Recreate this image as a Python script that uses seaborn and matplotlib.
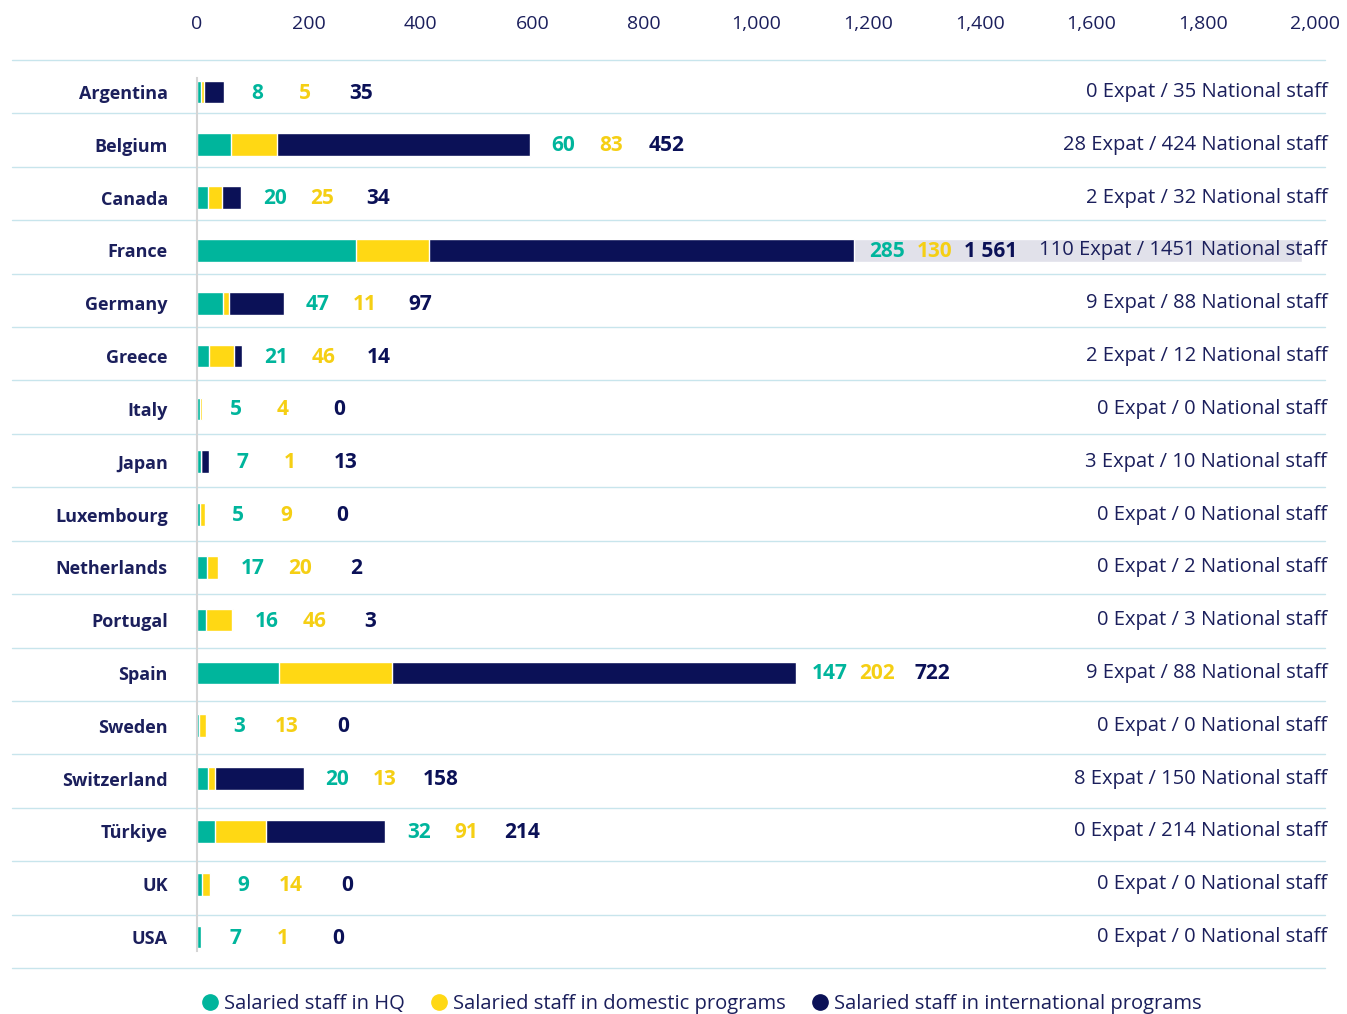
import matplotlib
matplotlib.use("Agg")
import matplotlib.pyplot as plt
from matplotlib.lines import Line2D
import seaborn as sns
import pandas as pd
import numpy as np

# data
countries = ['Argentina', 'Belgium', 'Canada', 'France', 'Germany', 'Greece', 'Italy',
             'Japan', 'Luxembourg', 'Netherlands', 'Portugal', 'Spain', 'Sweden',
             'Switzerland', 'Türkiye', 'UK', 'USA']
hq = [8, 60, 20, 285, 47, 21, 5, 7, 5, 17, 16, 147, 3, 20, 32, 9, 7]
domestic = [5, 83, 25, 130, 11, 46, 4, 1, 9, 20, 46, 202, 13, 13, 91, 14, 1]
intl = [35, 452, 34, 1561, 97, 14, 0, 13, 0, 2, 3, 722, 0, 158, 214, 0, 0]
expat = [0, 28, 2, 110, 9, 2, 0, 3, 0, 0, 0, 9, 0, 8, 0, 0, 0]
national = [35, 424, 32, 1451, 88, 12, 0, 10, 0, 2, 3, 88, 0, 150, 214, 0, 0]
legend_labels = ['Salaried staff in HQ', 'Salaried staff in domestic programs',
                 'Salaried staff in international programs']

TEAL = '#00b59c'
YELLOW = '#ffd814'
NAVY = '#0b1157'
TEXT = '#1b1f5c'
GRID = '#c8e5ec'
SHADE = '#e1e1ea'
LABEL_CAP = 1175   # labels in the source stop here and shade the bar behind them

sns.set_style('white')
plt.rcParams['font.family'] = ['Open Sans', 'DejaVu Sans']

df = pd.DataFrame({'country': countries, 'hq': hq, 'domestic': domestic, 'intl': intl})
df['cum_dom'] = df['hq'] + df['domestic']
df['total'] = df['cum_dom'] + df['intl']

fig = plt.figure(figsize=(13.47, 10.14), dpi=100)
ax = fig.add_axes([197 / 1347, 1 - 968 / 1014, 1118 / 1347, (968 - 60) / 1014])

# stacked bars: draw cumulative totals back to front
for col, c in [('total', NAVY), ('cum_dom', YELLOW), ('hq', TEAL)]:
    sns.barplot(data=df, y='country', x=col, color=c, width=0.43, ax=ax, saturation=1)

# bar rows are spaced a little tighter than the row bands
row_px = (937 - 92) / 16
y_top = (60 - 92) / row_px
y_bot = (968 - 92) / row_px
ax.set_xlim(0, 2000)
ax.set_ylim(y_bot, y_top)
ax.set_xlabel('')
ax.set_ylabel('')

ax.xaxis.tick_top()
ax.set_xticks(range(0, 2001, 200))
ax.xaxis.set_major_formatter(matplotlib.ticker.StrMethodFormatter('{x:,.0f}'))
ax.tick_params(axis='x', length=0, pad=19.5, labelsize=14, labelcolor=TEXT)
ax.tick_params(axis='y', length=0, pad=21, labelsize=13, labelcolor=TEXT)
for lab in ax.get_yticklabels():
    lab.set_fontweight('bold')

for s in ['top', 'right', 'bottom']:
    ax.spines[s].set_visible(False)
ax.spines['left'].set_color('#d5d5d5')
ax.spines['left'].set_linewidth(1.5)
ax.spines['left'].set_bounds(-0.27, 16.27)

# row separators
x0 = (12 - 197) / 1118
x1 = (1325 - 197) / 1118
for y in np.linspace(y_top, y_bot, len(countries) + 1):
    ax.axhline(y, xmin=x0, xmax=x1, color=GRID, lw=1, clip_on=False, zorder=0)

for i, row in df.iterrows():
    end = row['total']
    if end > LABEL_CAP:
        ax.barh(i, end - LABEL_CAP, left=LABEL_CAP, height=0.43, color=SHADE, zorder=3)
        end = LABEL_CAP
    for off, val, col in [(60, row['hq'], TEAL), (145, row['domestic'], '#f5cf14'),
                          (245, row['intl'], NAVY)]:
        ax.text(end + off, i + 0.02, f'{val:,}'.replace(',', ' '), ha='center', va='center',
                fontsize=15, fontweight='bold', color=col, zorder=4)
    ax.text(2022, i, f'{expat[i]} Expat / {national[i]} National staff', ha='right',
            va='center', fontsize=14.5, color=TEXT, clip_on=False, zorder=4)

handles = [Line2D([], [], marker='o', ls='', markersize=11, color=c) for c in (TEAL, YELLOW, NAVY)]
fig.legend(handles, legend_labels, loc='center', bbox_to_anchor=(0.52, 0.01), ncol=3,
           frameon=False, fontsize=14.5, labelcolor=TEXT, handletextpad=0.2,
           columnspacing=1.2, handlelength=1)

fig.savefig('out.png', dpi=100)
